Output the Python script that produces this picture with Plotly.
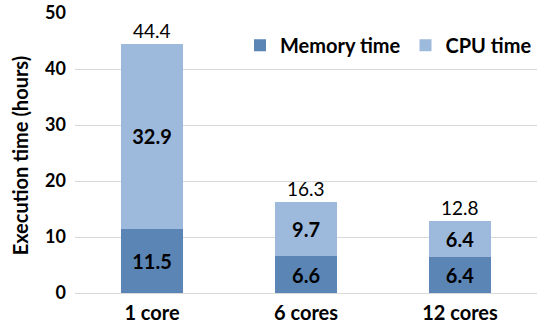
import plotly.graph_objects as go

categories = ["1 core", "6 cores", "12 cores"]
memory_time = [11.5, 6.6, 6.4]
cpu_time = [32.9, 9.7, 6.4]
totals = [44.4, 16.3, 12.8]
y_ticks = [0, 10, 20, 30, 40, 50]

FONT = "Lato, 'Open Sans', sans-serif"
DARK = "#5a85b4"
LIGHT = "#9dbadd"

fig = go.Figure()
fig.add_trace(go.Bar(
    x=categories, y=memory_time, name="Memory time",
    marker=dict(color=DARK, line=dict(width=0)),
    text=[f"{v:.1f}" for v in memory_time], textposition="inside",
    insidetextanchor="middle",
    textfont=dict(family=FONT, size=20, color="black", weight="bold"),
    width=0.4,
))
fig.add_trace(go.Bar(
    x=categories, y=cpu_time, name="CPU time",
    marker=dict(color=LIGHT, line=dict(width=0)),
    text=[f"{v:.1f}" for v in cpu_time], textposition="inside",
    insidetextanchor="middle",
    textfont=dict(family=FONT, size=20, color="black", weight="bold"),
    width=0.4,
))

# stacked totals above each bar
for cat, tot in zip(categories, totals):
    fig.add_annotation(
        x=cat, y=tot, text=f"{tot:.1f}", showarrow=False,
        yanchor="bottom", yshift=0,
        font=dict(family=FONT, size=19, color="black"),
    )

# y-axis title
fig.add_annotation(
    xref="paper", yref="paper", x=-0.12, y=0.49,
    text="Execution time (hours)", textangle=-90, showarrow=False,
    xanchor="center", yanchor="middle",
    font=dict(family=FONT, size=20, color="black", weight="bold"),
)

fig.update_layout(
    barmode="stack",
    width=537, height=326,
    margin=dict(l=75, r=0, t=13, b=33),
    paper_bgcolor="white", plot_bgcolor="white",
    legend=dict(
        orientation="h", x=1.0, y=0.885, xanchor="right", yanchor="middle",
        font=dict(family=FONT, size=20, color="black", weight="bold"),
        traceorder="normal", itemwidth=30, bgcolor="rgba(0,0,0,0)",
    ),
    xaxis=dict(
        tickfont=dict(family=FONT, size=20, color="black", weight="bold"),
        showline=False, ticks="", ticklabelstandoff=6,
    ),
    yaxis=dict(
        range=[0, 50], tickvals=y_ticks,
        tickfont=dict(family=FONT, size=18, color="black", weight="bold"),
        showgrid=True, gridcolor="#d9d9d9", gridwidth=1,
        zeroline=True, zerolinecolor="#d9d9d9", zerolinewidth=1,
        showline=False, ticks="", ticklabelstandoff=8,
    ),
)

fig.write_html("out.html")
